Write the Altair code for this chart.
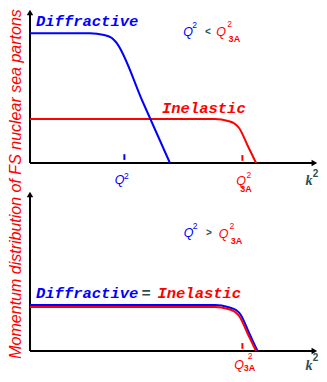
import altair as alt
import pandas as pd

# ---------------- data ----------------
# top panel (Q^2 < Q^2_3A)
k_diff_top = [0.0, 2.54, 3.14, 3.47, 3.64, 4.79, 5.93]
f_diff_top = [2.95, 2.95, 2.91, 2.84, 2.75, 1.375, 0.0]
k_inel = [0.0, 7.84, 8.39, 8.69, 8.86, 9.22, 9.58]
f_inel = [1.0, 1.0, 0.955, 0.886, 0.795, 0.398, 0.0]
# bottom panel (Q^2 > Q^2_3A): diffractive = inelastic
k_diff_bot = [0.0, 7.84, 8.42, 8.73, 8.92, 9.28, 9.64]
f_diff_bot = [1.045, 1.045, 0.995, 0.93, 0.83, 0.415, 0.0]
k_inel_bot = [0.0, 7.84, 8.39, 8.69, 8.86, 9.22, 9.58]
f_inel_bot = [1.0, 1.0, 0.955, 0.886, 0.795, 0.398, 0.0]
# marked scales on the k^2 axis
q2_value = 4.0
q3a_value = 9.0
k_axis_end = 12.0

BLUE = "#0000ff"
RED = "#ff0000"
GREY = "#2f4f4f"
MONO = "Liberation Mono"
SANS = "Liberation Sans"
SERIF = "Liberation Serif"

W, H_TOP, H_BOT = 311, 182, 184
xs = alt.Scale(domain=[-0.932, 12.246], nice=False, zero=False)
ys_top = alt.Scale(domain=[-0.614, 3.523], nice=False, zero=False)
ys_bot = alt.Scale(domain=[-0.523, 3.659], nice=False, zero=False)

ONE = alt.Data(values=[{}])


def X(v):
    return alt.XDatum(v, type="quantitative", scale=xs, axis=None)


def Y(v, ys):
    return alt.YDatum(v, type="quantitative", scale=ys, axis=None)


def curve(k, f, color, ys):
    df = pd.DataFrame({"k": k, "f": f})
    return alt.Chart(df).mark_line(color=color, strokeWidth=2, interpolate="monotone").encode(
        x=alt.X("k:Q", scale=xs, axis=None),
        y=alt.Y("f:Q", scale=ys, axis=None),
    )


def text(s, x, y, ys, color, size, font, style="normal", weight="normal",
         align="center", angle=0):
    return alt.Chart(ONE).mark_text(
        text=s, color=color, fontSize=size, font=font, fontStyle=style,
        fontWeight=weight, align=align, baseline="alphabetic", angle=angle,
    ).encode(x=X(x), y=Y(y, ys))


def hrule(x1, x2, y, ys, color="black", w=2):
    return alt.Chart(ONE).mark_rule(color=color, strokeWidth=w).encode(
        x=X(x1), x2=alt.X2Datum(x2), y=Y(y, ys))


def vrule(x, y1, y2, ys, color="black", w=2):
    return alt.Chart(ONE).mark_rule(color=color, strokeWidth=w).encode(
        x=X(x), y=Y(y1, ys), y2=alt.Y2Datum(y2))


def arrow(shape, x, y, ys):
    return alt.Chart(ONE).mark_point(
        shape=shape, filled=True, size=42, color="black", opacity=1, strokeWidth=0
    ).encode(x=X(x), y=Y(y, ys))


def q_label(xq, yq, x2, y2, color, ys, sub=None, xs_=None, ys_=None, size=12.5):
    parts = [
        text("Q", xq, yq, ys, color, size, SANS, style="italic"),
        text("2", x2, y2, ys, color, 8.5, SANS),
    ]
    if sub:
        parts.append(text(sub, xs_, ys_, ys, color, 9, SANS, weight="bold"))
    return parts


# ---------------- top panel ----------------
top_layers = [
    vrule(0, 0, 3.40, ys_top),
    arrow("triangle-up", 0, 3.42, ys_top),
    hrule(0, k_axis_end, 0, ys_top),
    arrow("triangle-right", 12.05, 0, ys_top),
    curve(k_inel, f_inel, RED, ys_top),
    curve(k_diff_top, f_diff_top, BLUE, ys_top),
    vrule(q2_value, 0.07, 0.2, ys_top, BLUE),
    vrule(q3a_value, 0.05, 0.18, ys_top, RED),
    text("Diffractive", 0.254, 3.114, ys_top, BLUE, 15.5, MONO, "italic", "bold", "left"),
    text("Inelastic", 5.593, 1.136, ys_top, RED, 15.5, MONO, "italic", "bold", "left"),
    *q_label(3.80, -0.477, 4.08, -0.364, BLUE, ys_top),
    *q_label(8.95, -0.5, 9.27, -0.341, RED, ys_top, "3A", 9.15, -0.659),
    text("k", 11.822, -0.5, ys_top, GREY, 14, SERIF, "italic", "bold"),
    text("2", 12.097, -0.318, ys_top, GREY, 10, SANS, weight="bold"),
    *q_label(6.70, 2.886, 6.98, 3.068, BLUE, ys_top),
    text("<", 7.542, 2.909, ys_top, GREY, 10, SANS, weight="bold"),
    *q_label(8.10, 2.886, 8.46, 3.091, RED, ys_top, "3A", 8.66, 2.75),
    text("Momentum distribution of FS nuclear sea partons", -0.36, -0.477, ys_top,
         RED, 16, SANS, "italic", angle=270),
]
top = alt.layer(*top_layers).properties(width=W, height=H_TOP)

# ---------------- bottom panel ----------------
bot_layers = [
    vrule(0, 0, 3.55, ys_bot),
    arrow("triangle-up", 0, 3.557, ys_bot),
    hrule(0, k_axis_end, 0, ys_bot),
    arrow("triangle-right", 12.05, 0, ys_bot),
    curve(k_diff_bot, f_diff_bot, BLUE, ys_bot),
    curve(k_inel_bot, f_inel_bot, RED, ys_bot),
    vrule(q3a_value, 0.05, 0.18, ys_bot, RED),
    text("Diffractive", 0.254, 1.205, ys_bot, BLUE, 15.5, MONO, "italic", "bold", "left"),
    text("=", 4.92, 1.205, ys_bot, GREY, 15.5, MONO, weight="bold"),
    text("Inelastic", 5.40, 1.205, ys_bot, RED, 15.5, MONO, "italic", "bold", "left"),
    *q_label(6.72, 2.591, 7.00, 2.773, BLUE, ys_bot),
    text(">", 7.585, 2.614, ys_bot, GREY, 10, SANS, weight="bold"),
    *q_label(8.20, 2.568, 8.55, 2.773, RED, ys_bot, "3A", 8.75, 2.443),
    *q_label(8.86, -0.398, 9.33, -0.182, RED, ys_bot, "3A", 9.30, -0.466),
    text("k", 11.822, -0.432, ys_bot, GREY, 14, SERIF, "italic", "bold"),
    text("2", 12.097, -0.227, ys_bot, GREY, 10, SANS, weight="bold"),
]
bottom = alt.layer(*bot_layers).properties(width=W, height=H_BOT)

chart = (
    alt.vconcat(top, bottom, spacing=0, bounds="flush")
    .properties(padding=0, background="white")
    .configure_view(stroke=None)
)

chart.save("out.html", embed_options={"renderer": "svg", "actions": False})
